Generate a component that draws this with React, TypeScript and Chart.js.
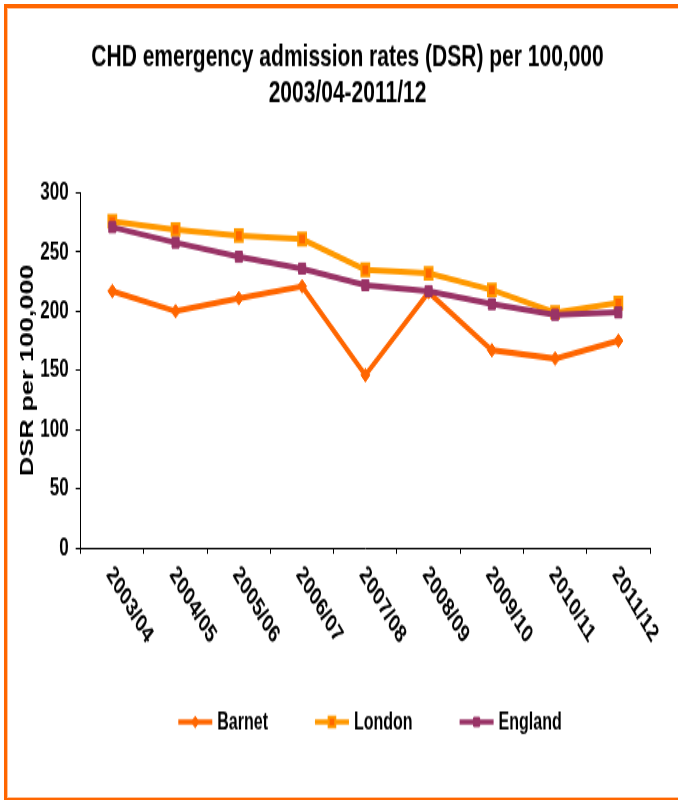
import React, { useEffect, useRef } from 'react';
import { Chart, registerables } from 'chart.js';
import { drawPoint } from 'chart.js/helpers';

Chart.register(...registerables);

// Financial years on the category axis
const periods = ['2003/04', '2004/05', '2005/06', '2006/07', '2007/08', '2008/09', '2009/10', '2010/11', '2011/12'];

// Directly standardised rates per 100,000
const barnet = [217, 200, 211, 221, 146, 216, 167, 160, 175];
const london = [276, 269, 264, 261, 235, 232, 218, 199, 207];
const england = [271, 258, 246, 236, 222, 217, 206, 197, 199];

const seriesNames = ['Barnet', 'London', 'England'];
const yMin = 0;
const yMax = 300;
const yStep = 50;

const titleLines = ['CHD emergency admission rates (DSR) per 100,000', '2003/04-2011/12'];
const yAxisTitle = 'DSR per 100,000';

const BARNET_COLOR = '#FF6600';
const LONDON_COLOR = '#FF9900';
const ENGLAND_COLOR = '#993366';

const FONT = "'Liberation Sans', Arial, Helvetica, sans-serif";

// The canvas is drawn at CANVAS_H and displayed stretched to SHOWN_H.
const CANVAS_W = 678;
const CANVAS_H = 533;
const SHOWN_H = 800;

// Plot frame inside the canvas
const PLOT_LEFT = 80.7;
const PLOT_RIGHT = 650;
const PLOT_TOP = 128.5;
const PLOT_BOTTOM = 365;
const OUTER_LEFT = 17;

const LABEL_ANGLE = (49 * Math.PI) / 180;

const markerStyles = [
  { pointStyle: 'rectRot', radius: 4.5, fill: BARNET_COLOR, stroke: BARNET_COLOR, borderWidth: 1, line: BARNET_COLOR },
  { pointStyle: 'rect', radius: 5.5, fill: BARNET_COLOR, stroke: LONDON_COLOR, borderWidth: 2, line: LONDON_COLOR },
  { pointStyle: 'rect', radius: 5, fill: ENGLAND_COLOR, stroke: ENGLAND_COLOR, borderWidth: 1, line: ENGLAND_COLOR },
];

// Rotated period labels under the axis and the series key
const labelsAndKey = {
  id: 'labelsAndKey',
  afterDraw(chart: any) {
    const { ctx, chartArea } = chart;
    const x = chart.scales.x;
    ctx.save();
    ctx.fillStyle = '#000';
    ctx.font = `bold 17px ${FONT}`;
    ctx.textAlign = 'left';
    ctx.textBaseline = 'middle';
    periods.forEach((p, i) => {
      const px = x.getPixelForValue(i);
      ctx.save();
      ctx.translate(px - 3, chartArea.bottom + 15);
      ctx.rotate(LABEL_ANGLE);
      ctx.fillText(p, 0, 0);
      ctx.restore();
    });

    // key
    const keyY = 481;
    const lineLen = 34;
    const textGap = 5;
    const itemGap = 47;
    ctx.font = `bold 16px ${FONT}`;
    const widths = seriesNames.map((n) => ctx.measureText(n).width);
    const total = widths.reduce((a, w) => a + lineLen + textGap + w, 0) + itemGap * (seriesNames.length - 1);
    let cx = 370 - total / 2;
    seriesNames.forEach((name, i) => {
      const st = markerStyles[i];
      ctx.strokeStyle = st.line;
      ctx.lineWidth = 3.5;
      ctx.beginPath();
      ctx.moveTo(cx, keyY);
      ctx.lineTo(cx + lineLen, keyY);
      ctx.stroke();
      ctx.fillStyle = st.fill;
      ctx.strokeStyle = st.stroke;
      ctx.lineWidth = st.borderWidth;
      drawPoint(ctx, { pointStyle: st.pointStyle as any, radius: st.radius * 0.85, rotation: 0, borderWidth: st.borderWidth }, cx + lineLen / 2, keyY);
      ctx.fillStyle = '#000';
      ctx.fillText(name, cx + lineLen + textGap, keyY + 1);
      cx += lineLen + textGap + widths[i] + itemGap;
    });
    ctx.restore();
  },
};

function buildDataset(label: string, data: number[], i: number, order: number) {
  const st = markerStyles[i];
  return {
    label,
    data,
    order,
    borderColor: st.line,
    backgroundColor: st.fill,
    borderWidth: 4,
    tension: 0,
    pointStyle: st.pointStyle,
    pointRadius: st.radius,
    pointHoverRadius: st.radius,
    pointBackgroundColor: st.fill,
    pointBorderColor: st.stroke,
    pointBorderWidth: st.borderWidth,
  };
}

export default function App() {
  const canvasRef = useRef<HTMLCanvasElement>(null);

  useEffect(() => {
    const canvas = canvasRef.current;
    if (!canvas) return;
    const chart = new Chart(canvas, {
      type: 'line',
      data: {
        labels: periods,
        datasets: [
          buildDataset(seriesNames[0], barnet, 0, 2),
          buildDataset(seriesNames[1], london, 1, 1),
          buildDataset(seriesNames[2], england, 2, 0),
        ] as any,
      },
      options: {
        responsive: false,
        animation: false,
        devicePixelRatio: 1,
        layout: { padding: { left: OUTER_LEFT, right: 0, top: 0, bottom: 0 } },
        plugins: {
          legend: { display: false },
          tooltip: { enabled: false },
          title: {
            display: true,
            text: titleLines,
            color: '#000',
            font: { family: FONT, size: 21, weight: 'bold', lineHeight: '24px' },
            padding: { top: 26, bottom: PLOT_TOP - 26 - 48 },
          },
        },
        scales: {
          x: {
            type: 'category',
            offset: true,
            grid: {
              display: true,
              offset: true,
              drawOnChartArea: false,
              drawTicks: true,
              tickLength: 4,
              color: '#000',
              lineWidth: 1,
            },
            border: { display: true, color: '#000', width: 1 },
            ticks: { display: false },
            afterFit(scale: any) {
              scale.height = CANVAS_H - PLOT_BOTTOM;
              scale.paddingLeft = 0;
              scale.paddingRight = CANVAS_W - PLOT_RIGHT;
            },
          },
          y: {
            min: yMin,
            max: yMax,
            grid: {
              display: true,
              drawOnChartArea: false,
              drawTicks: true,
              tickLength: 5,
              color: '#000',
              lineWidth: 1,
            },
            border: { display: true, color: '#000', width: 1 },
            ticks: {
              stepSize: yStep,
              color: '#000',
              padding: 7,
              font: { family: FONT, size: 17, weight: 'bold' },
            },
            title: {
              display: true,
              text: yAxisTitle,
              color: '#000',
              font: { family: FONT, size: 18, weight: 'bold' },
              padding: 0,
            },
            afterFit(scale: any) {
              scale.width = PLOT_LEFT - OUTER_LEFT;
              scale.paddingTop = 0;
              scale.paddingBottom = 0;
            },
          },
        },
      },
      plugins: [labelsAndKey],
    });
    return () => chart.destroy();
  }, []);

  return (
    <div
      style={{
        position: 'absolute',
        left: 0,
        top: 0,
        width: CANVAS_W,
        height: SHOWN_H,
        background: '#fff',
        overflow: 'hidden',
      }}
    >
      <canvas
        ref={canvasRef}
        width={CANVAS_W}
        height={CANVAS_H}
        style={{ display: 'block', width: `${CANVAS_W}px`, height: `${SHOWN_H}px` }}
      />
      <div
        style={{
          position: 'absolute',
          left: 4,
          top: 4,
          width: 720,
          height: 796,
          boxSizing: 'border-box',
          borderTop: '4px solid #FF6600',
          borderLeft: '3px solid #FF6600',
          borderBottom: '2px solid #FF6600',
        }}
      >
        <div
          style={{
            position: 'absolute',
            left: 0,
            top: 0,
            right: 0,
            bottom: 0,
            borderTop: '1px solid #FFC299',
            borderLeft: '1px solid #FFC299',
            borderBottom: '1px solid #FFC299',
          }}
        />
      </div>
    </div>
  );
}
